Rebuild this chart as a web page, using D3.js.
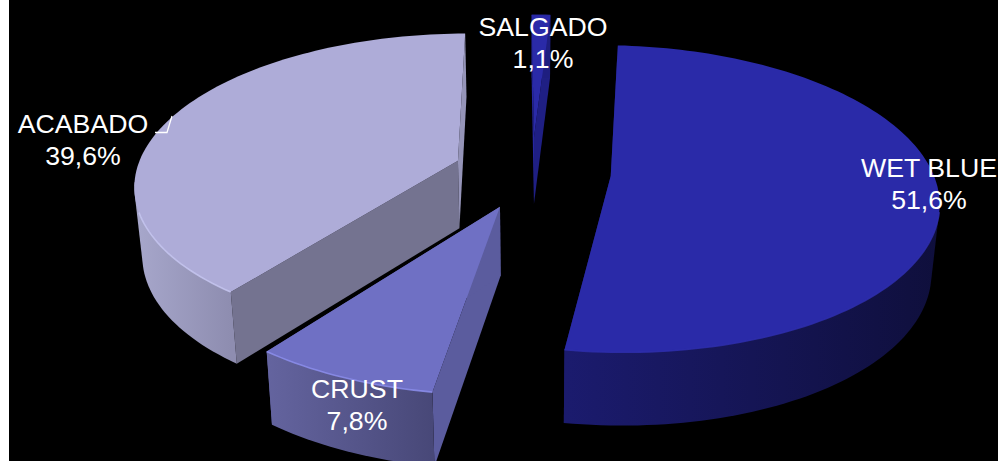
<!DOCTYPE html>
<html>
<head>
<meta charset="utf-8">
<script src="https://d3js.org/d3.v7.min.js"></script>
<style>
html, body { margin: 0; padding: 0; background: #fff; overflow: hidden; }
svg { display: block; }
text { font-family: "Liberation Sans", Arial, sans-serif; font-size: 26.7px; fill: #fff; text-anchor: middle; }
</style>
</head>
<body>
<div id="chart"></div>
<script>
// chart values
var categories = ["WET BLUE", "CRUST", "ACABADO", "SALGADO"];
var shares = [51.6, 7.8, 39.6, 1.1];
var shareLabels = ["51,6%", "7,8%", "39,6%", "1,1%"];

// styles, same order as categories
var topColors = ["#2a2aa8", "#6f70c4", "#aeacd8", "#2a2aa8"];
var rimColors = ["#2e2eac", "#8c8eec", "#c6c6f0", "#2a2aa8"];
var wallColors = [["#1b1b6e", "#0f0f3c"], ["#64649f", "#484878"], ["#a6a6ca", "#8e8db0"], ["#1e1e80", "#1e1e80"]];
var startWallColors = ["#1a1a66", "#5b5c9e", "#747390", "#2626a0"];
var endWallColors = ["#1a1a66", "#5b5c9e", "#9594b8", "#1f1f84"];

var width = 998,
    height = 461;

// perspective of the tilted pie
var cx = 532, cy = 172, a = 322, b = 149, k = 0.1475, depth = 68, depthK = 0.07, shrink = 0.02;
var explode = 0.245;

function project(X, Y, Z) {
  var d = 1 - k * Y;
  return [cx + a * X / d * (1 - shrink * Z), cy + b * Y / d + Z * depth / (1 - depthK * Y)];
}

var svg = d3.select("#chart").append("svg")
    .attr("width", width)
    .attr("height", height);

svg.append("rect")
    .attr("x", 9).attr("y", 0)
    .attr("width", width - 9).attr("height", height)
    .attr("fill", "#000");

var defs = svg.append("defs");
var line = d3.line();

var startAngle = 3.5 * Math.PI / 180;
var slices = d3.pie().sort(null).startAngle(startAngle).endAngle(startAngle + 2 * Math.PI)(shares);

// ground plane helpers
function apex(s) {
  var mid = (s.startAngle + s.endAngle) / 2;
  return [explode * Math.sin(mid), -explode * Math.cos(mid)];
}
function rim(s, Z) {
  var o = apex(s),
      n = Math.max(4, Math.round((s.endAngle - s.startAngle) * 40));
  return d3.range(n + 1).map(function(i) {
    var t = s.startAngle + (s.endAngle - s.startAngle) * i / n;
    return project(o[0] + Math.sin(t), o[1] - Math.cos(t), Z);
  });
}

// back to front
var drawOrder = [3, 2, 0, 1];

drawOrder.forEach(function(i) {
  var s = slices[i],
      o = apex(s),
      topRim = rim(s, 0),
      lowRim = rim(s, 1),
      apexTop = project(o[0], o[1], 0),
      apexLow = project(o[0], o[1], 1),
      g = svg.append("g").attr("class", "slice");

  // lit edge and wall shading only cover the front of the arc
  var front = topRim.filter(function(p) { return p[1] > cy + 40; });
  if (front.length < 2) front = topRim;
  var xs = front.map(function(p) { return p[0]; });

  var grad = defs.append("linearGradient")
      .attr("id", "wall" + i)
      .attr("gradientUnits", "userSpaceOnUse")
      .attr("x1", d3.min(xs)).attr("y1", 0)
      .attr("x2", d3.max(xs)).attr("y2", 0);
  grad.append("stop").attr("offset", 0).attr("stop-color", wallColors[i][0]);
  grad.append("stop").attr("offset", 1).attr("stop-color", wallColors[i][1]);

  // flat wall on the start angle
  g.append("path")
      .attr("d", line([apexTop, topRim[0], lowRim[0], apexLow]) + "Z")
      .attr("fill", startWallColors[i]);
  // flat wall on the end angle
  g.append("path")
      .attr("d", line([apexTop, topRim[topRim.length - 1], lowRim[lowRim.length - 1], apexLow]) + "Z")
      .attr("fill", endWallColors[i]);

  // outer wall, hull of the front part so the silhouette runs straight between the rims
  var wallPoints = [];
  topRim.forEach(function(p, j) {
    if (p[1] > cy + 10) wallPoints.push(p, lowRim[j]);
  });
  var wall = wallPoints.length > 4 ? d3.polygonHull(wallPoints) : topRim.concat(lowRim.slice().reverse());
  g.append("path")
      .attr("d", line(wall) + "Z")
      .attr("fill", "url(#wall" + i + ")");

  // top face
  g.append("path")
      .attr("d", line([apexTop].concat(topRim)) + "Z")
      .attr("fill", topColors[i]);
  g.append("path")
      .attr("d", line(front))
      .attr("fill", "none")
      .attr("stroke", rimColors[i])
      .attr("stroke-width", 1.6)
      .attr("stroke-opacity", 0.85);
});

// labels
var labelAnchors = [[929, 176.5], [357, 397.5], [83, 132.5], [543, 35.5]];
var labels = svg.append("g").attr("class", "labels");
categories.forEach(function(c, i) {
  labels.append("text").attr("x", labelAnchors[i][0]).attr("y", labelAnchors[i][1]).text(c);
  labels.append("text").attr("x", labelAnchors[i][0]).attr("y", labelAnchors[i][1] + 32).text(shareLabels[i]);
});

// leader line next to ACABADO
labels.append("path")
    .attr("d", line([[155, 132.5], [167, 132.5], [172, 116]]))
    .attr("fill", "none")
    .attr("stroke", "#fff")
    .attr("stroke-width", 1.3);
</script>
</body>
</html>
